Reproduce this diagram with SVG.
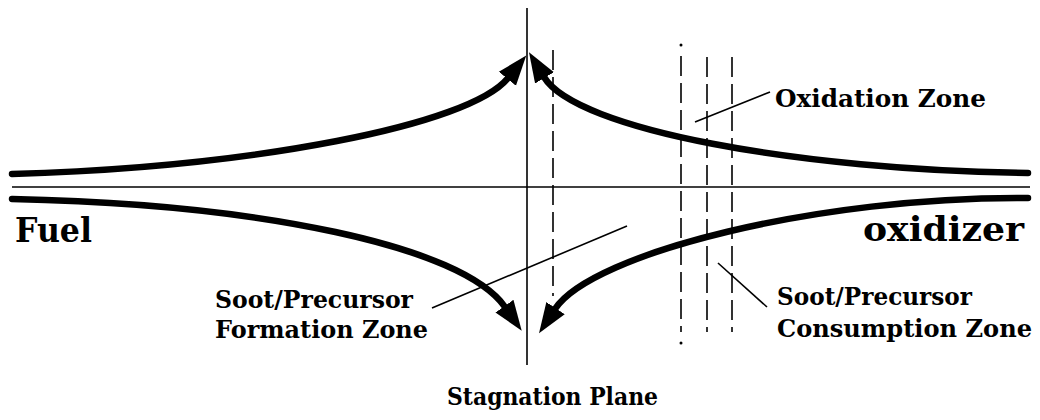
<svg xmlns="http://www.w3.org/2000/svg" width="1040" height="420" viewBox="0 0 1040 420">
<defs>
<style>
.flow{fill:none;stroke:#000;stroke-width:6.5;stroke-linecap:round}
.thin{stroke:#000;stroke-width:1.6;fill:none}
.dash{stroke:#000;stroke-width:1.6;stroke-dasharray:20 7;fill:none}
.lead{stroke:#000;stroke-width:1.6;fill:none}
.lbl{font-family:"DejaVu Serif","Liberation Serif",serif;font-weight:bold;fill:#000}
.big{font-size:34px}
.med{font-size:24px}
</style>
<marker id="ah" markerUnits="userSpaceOnUse" markerWidth="32" markerHeight="26" refX="1" refY="12" orient="auto" viewBox="0 0 32 24">
<path d="M0,1 L30,12 L0,23 Z" fill="#000"/>
</marker>
</defs>
<rect width="1040" height="420" fill="#fff"/>
<g id="axes">
<line class="thin" x1="12" y1="187" x2="1030" y2="187"/>
<line class="thin" x1="527" y1="8" x2="527" y2="365"/>
</g>
<g id="zone-lines">
<line class="dash" x1="553" y1="50" x2="553" y2="296"/>
<line class="dash" x1="681" y1="56" x2="681" y2="332"/>
<line class="dash" x1="707" y1="57" x2="707" y2="332"/>
<line class="dash" x1="732" y1="57" x2="732" y2="332"/>
<circle cx="681" cy="45" r="1.5" fill="#000"/>
<circle cx="681" cy="343" r="1.5" fill="#000"/>
</g>
<g id="connectors">
<path class="flow" d="M12,174 C255,167 470,125 508,78" marker-end="url(#ah)"/>
<path class="flow" d="M1028,173 C800,170 576,130 544,77" marker-end="url(#ah)"/>
<path class="flow" d="M12,199 C260,204 462,246 505,307" marker-end="url(#ah)"/>
<path class="flow" d="M1028,198 C820,196 592,253 555,309" marker-end="url(#ah)"/>
</g>
<g id="leaders">
<line class="lead" x1="695" y1="122" x2="770" y2="92"/>
<line class="lead" x1="718" y1="263" x2="767" y2="307"/>
<line class="lead" x1="432" y1="308" x2="627" y2="226"/>
</g>
<g id="fuel"><text class="lbl big" x="15" y="242" textLength="77" lengthAdjust="spacingAndGlyphs">Fuel</text></g>
<g id="oxidizer"><text class="lbl big" x="863" y="241" textLength="161" lengthAdjust="spacingAndGlyphs">oxidizer</text></g>
<g id="oxidation-zone"><text class="lbl med" x="775" y="107" textLength="211" lengthAdjust="spacingAndGlyphs">Oxidation Zone</text></g>
<g id="consumption-zone">
<text class="lbl med" x="777" y="305" textLength="195" lengthAdjust="spacingAndGlyphs">Soot/Precursor</text>
<text class="lbl med" x="777" y="337" textLength="255" lengthAdjust="spacingAndGlyphs">Consumption Zone</text>
</g>
<g id="formation-zone">
<text class="lbl med" x="215" y="308" textLength="198" lengthAdjust="spacingAndGlyphs">Soot/Precursor</text>
<text class="lbl med" x="215" y="338" textLength="213" lengthAdjust="spacingAndGlyphs">Formation Zone</text>
</g>
<g id="stagnation-plane"><text class="lbl med" x="447" y="405" textLength="211" lengthAdjust="spacingAndGlyphs">Stagnation Plane</text></g>
</svg>
